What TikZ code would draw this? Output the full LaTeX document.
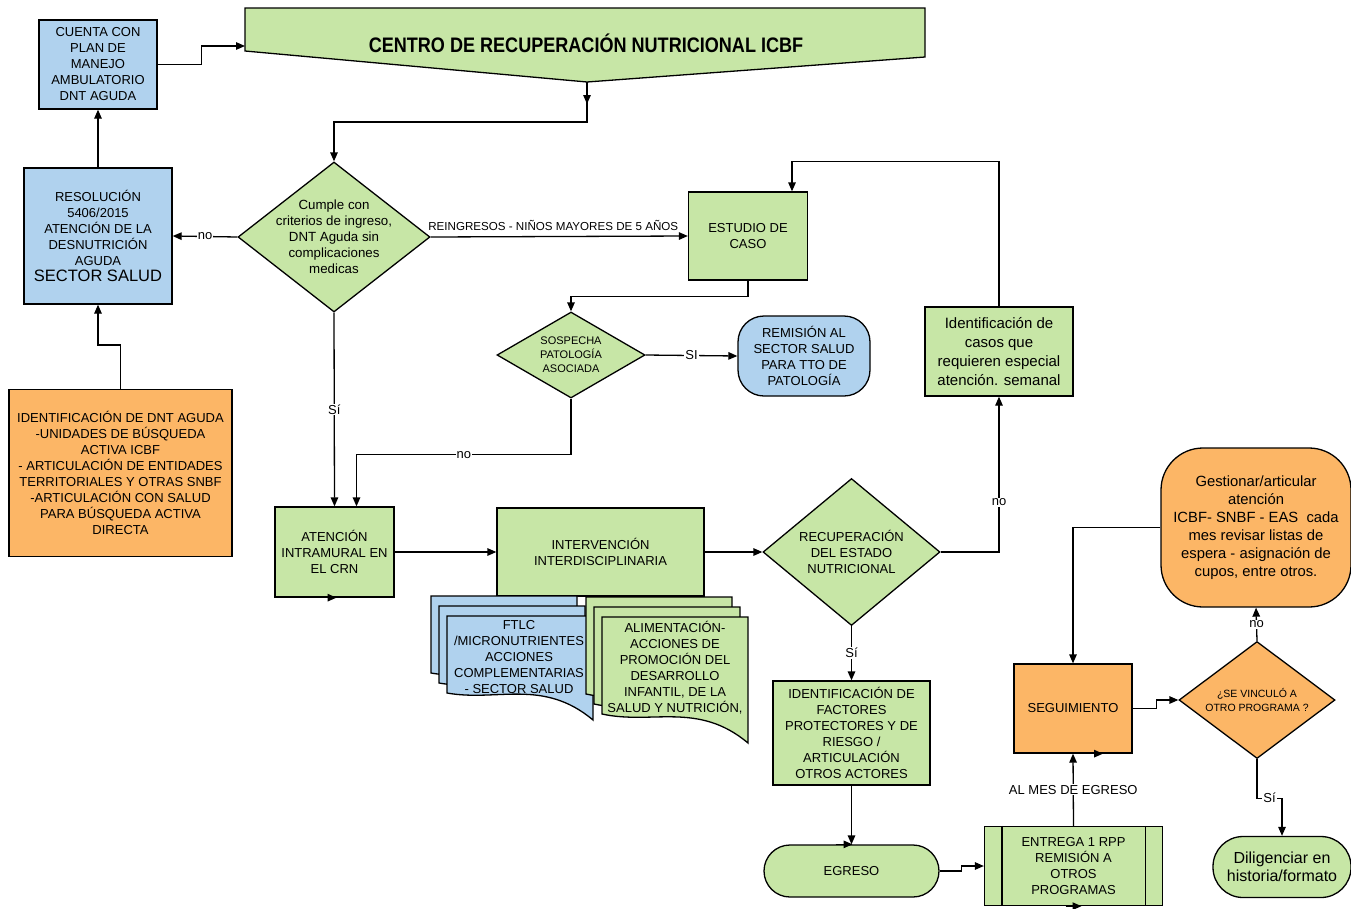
\documentclass[tikz,border=0pt]{standalone}
\usepackage{fontspec}
\setmainfont{Liberation Sans}
\usepackage{graphicx}
\usepackage{tikz}
\usetikzlibrary{arrows.meta,shapes.geometric}

\definecolor{crngreen}{RGB}{199,230,166}
\definecolor{crnblue}{RGB}{176,210,238}
\definecolor{crnorange}{RGB}{252,182,102}

\begin{document}
\begin{tikzpicture}[x=1pt, y=-1pt, >={Triangle[length=9pt,width=7.5pt]}, line width=1.3pt,
  every node/.style={font=\fontsize{13}{16}\selectfont, align=center},
  box/.style={draw, inner sep=0pt, line width=1.3pt},
  decision/.style={diamond, draw, inner sep=0pt, line width=1.3pt},
  lbl/.style={fill=white, inner sep=1pt, font=\fontsize{13}{15}\selectfont},
  bigtxt/.style={font=\fontsize{15}{18.7}\selectfont},
  smalltxt/.style={font=\fontsize{11}{14}\selectfont}]
\useasboundingbox (0,0) rectangle (1351,908);

% banner
\draw[fill=crngreen] (245,8) -- (925,8) -- (925,57) -- (587,82) coordinate (cbot) -- (245,51) -- cycle;
\node (centro) at (586,43) {\fontsize{21}{24}\selectfont\bfseries\scalebox{0.86}[1]{CENTRO DE RECUPERACIÓN NUTRICIONAL ICBF}};
\coordinate (cleft) at (245,46);

% left column
\node[box, fill=crnblue, minimum width=118, minimum height=89] (cuenta) at (98,64.5) {CUENTA CON\\PLAN DE\\MANEJO\\AMBULATORIO\\DNT AGUDA};
\node[box, fill=crnblue, minimum width=148, minimum height=136] (resol) at (98,236) {RESOLUCIÓN\\5406/2015\\ATENCIÓN DE LA\\DESNUTRICIÓN\\AGUDA\\{\fontsize{16.5}{19}\selectfont SECTOR SALUD}};
\node[box, fill=crnorange, minimum width=223, minimum height=167] (ident) at (120.5,473) {IDENTIFICACIÓN DE DNT AGUDA\\-UNIDADES DE BÚSQUEDA\\ACTIVA ICBF\\- ARTICULACIÓN DE ENTIDADES\\TERRITORIALES Y OTRAS SNBF\\-ARTICULACIÓN CON SALUD\\PARA BÚSQUEDA ACTIVA\\DIRECTA};

% decisions and boxes
\node[decision, fill=crngreen, minimum width=192, minimum height=150] (cumple) at (334,237) {};
\node[font=\fontsize{13.3}{16}\selectfont] (cumpletxt) at (cumple) {Cumple con\\criterios de ingreso,\\DNT Aguda sin\\complicaciones\\medicas};
\node[box, fill=crngreen, minimum width=119, minimum height=88] (estudio) at (748,236) {ESTUDIO DE\\CASO};
\node[decision, fill=crngreen, minimum width=148, minimum height=86] (sospecha) at (571,355) {};
\node[smalltxt] (sospechatxt) at (sospecha) {SOSPECHA\\PATOLOGÍA\\ASOCIADA};
\node[box, fill=crnblue, rounded corners=26, minimum width=132, minimum height=80] (remision) at (804,356) {REMISIÓN AL\\SECTOR SALUD\\PARA TTO DE\\PATOLOGÍA};
\node[box, bigtxt, fill=crngreen, minimum width=148, minimum height=89] (casos) at (999,351.5) {Identificación de\\casos que\\requieren especial\\atención. semanal};
\node[box, fill=crngreen, minimum width=119, minimum height=90] (atencion) at (334.5,552) {ATENCIÓN\\INTRAMURAL EN\\EL CRN};
\node[box, fill=crngreen, minimum width=207, minimum height=88] (interv) at (600.5,552) {INTERVENCIÓN\\INTERDISCIPLINARIA};

% stacked documents
\foreach \i in {0,1,2}{
  \pgfmathsetmacro\bx{431+8*\i}
  \pgfmathsetmacro\by{596+10*\i}
  \draw[fill=crnblue] (\bx,\by) -- (\bx+146,\by) -- (\bx+146,\by+104)
    .. controls (\bx+96,\by+62) and (\bx+50,\by+86) .. (\bx,\by+77) -- cycle;
}
\foreach \i in {0,1,2}{
  \pgfmathsetmacro\gx{586+8*\i}
  \pgfmathsetmacro\gy{597+10*\i}
  \draw[fill=crngreen] (\gx,\gy) -- (\gx+146,\gy) -- (\gx+146,\gy+126)
    .. controls (\gx+96,\gy+84) and (\gx+50,\gy+108) .. (\gx,\gy+97) -- cycle;
}
\node (ftlc) at (519,657) {FTLC\\/MICRONUTRIENTES\\ACCIONES\\COMPLEMENTARIAS\\- SECTOR SALUD};
\node (alim) at (675,668) {ALIMENTACIÓN-\\ACCIONES DE\\PROMOCIÓN DEL\\DESARROLLO\\INFANTIL, DE LA\\SALUD Y NUTRICIÓN,};

\node[decision, fill=crngreen, minimum width=177, minimum height=147] (recup) at (851.5,552) {};
\node (recuptxt) at (recup) {RECUPERACIÓN\\DEL ESTADO\\NUTRICIONAL};
\node[box, fill=crngreen, minimum width=157, minimum height=104] (factores) at (851.5,733) {IDENTIFICACIÓN DE\\FACTORES\\PROTECTORES Y DE\\RIESGO /\\ARTICULACIÓN\\OTROS ACTORES};
\node[box, fill=crngreen, rounded corners=26, minimum width=175, minimum height=52] (egreso) at (851.5,871) {EGRESO};
\node[box, fill=crngreen, minimum width=178, minimum height=79] (entrega) at (1073.5,866) {ENTREGA 1 RPP\\REMISIÓN A\\OTROS\\PROGRAMAS};
\draw ([xshift=18]entrega.north west) -- ([xshift=18]entrega.south west);
\draw ([xshift=-18]entrega.north east) -- ([xshift=-18]entrega.south east);

% right column
\node[box, fill=crnorange, minimum width=118, minimum height=89] (seguim) at (1073,708.5) {SEGUIMIENTO};
\node[decision, fill=crnorange, minimum width=156, minimum height=117] (vinculo) at (1257,700) {};
\node[smalltxt, font=\fontsize{10.5}{14}\selectfont] (vinculotxt) at (vinculo) {¿SE VINCULÓ A\\OTRO PROGRAMA ?};
\node[box, font=\fontsize{14.8}{18}\selectfont, fill=crnorange, rounded corners=42, minimum width=190, minimum height=159] (gestion) at (1256,527.5) {Gestionar/articular\\atención\\ICBF- SNBF - EAS~ cada\\mes revisar listas de\\espera - asignación de\\cupos, entre otros.};
\node[box, font=\fontsize{16}{18}\selectfont, fill=crngreen, rounded corners=30, minimum width=138, minimum height=61] (dilig) at (1282,867) {Diligenciar en\\historia/formato};

% connectors
\draw[->] (cuenta.east) -- ++(44,0) |- (cleft);
\draw[->] (cbot) -- (cbot |- 0,122) -| (cumple.north);
\draw[->] (cbot) -- ++(0,22);
\draw[->] (cumple.west) -- node[lbl]{no} (resol.east);
\draw[->] (resol.north) -- (cuenta.south);
\draw[->] (ident.north) -- ++(0,-44) -| (resol.south);
\draw[->] (cumple.east) -- node[above, font=\fontsize{11.6}{13}\selectfont, xshift=-6, yshift=2]{REINGRESOS - NIÑOS MAYORES DE 5 AÑOS} (estudio.west);
\draw[->] (cumple.south) -- node[lbl]{Sí} (atencion.north);
\draw[->] (estudio.south) -- ++(0,16) -| (sospecha.north);
\draw[->] (sospecha.east) -- node[lbl]{SI} (remision.west);
\draw[->] (sospecha.south) -- ++(0,56) -| node[lbl, pos=0.25]{no} ([xshift=22]atencion.north);
\draw[->] (atencion.east) -- (interv.west);
\draw[->] (interv.east) -- (recup.west);
\draw[->] (recup.east) -| node[lbl, pos=0.66]{no} (casos.south);
\draw[->] (casos.north) -- ++(0,-145) -| ([xshift=44]estudio.north);
\draw[->] (recup.south) -- node[lbl]{Sí} (factores.north);
\draw[->] (factores.south) -- (egreso.north);
\draw[->] (egreso.east) -- ++(22,0) |- (entrega.west);
\draw[->] (entrega.north) -- node[lbl]{AL MES DE EGRESO} (seguim.south);
\draw[->] (seguim.east) -- ++(24,0) |- (vinculo.west);
\draw[->] (vinculo.north) -- node[lbl]{no} (gestion.south);
\draw[->] (gestion.west) -| (seguim.north);
\draw[->] (vinculo.south) -- ++(0,39) -| node[lbl, pos=0.25]{Sí} (dilig.north);

% stray arrowheads
\draw[->] ([xshift=-12]atencion.south) -- ([xshift=2]atencion.south);
\draw[->] ([xshift=-16]egreso.north) -- ([xshift=1]egreso.north);
\draw[->] ([xshift=7]seguim.south) -- ([xshift=30]seguim.south);
\draw[->] ([xshift=-8]entrega.south) -- ([xshift=8]entrega.south);
\end{tikzpicture}
\end{document}
